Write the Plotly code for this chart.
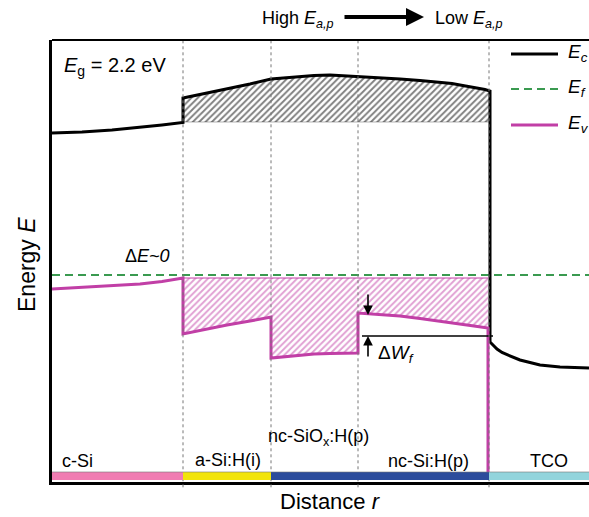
import plotly.graph_objects as go

# ---------------- data (distance r and energy E in arbitrary units) ----------------
# conduction band edge Ec
ec_r = [0, 30, 60, 88, 110, 131, 131, 155, 175, 198, 219, 235, 248, 262, 278, 292, 306, 328, 348, 368, 388, 400, 408, 418, 426, 433, 438,
        438, 441, 445, 450, 458, 468, 478, 488, 498, 508, 537]
ec_E = [349, 350, 352, 354.5, 357, 359.5, 384, 389, 393, 398, 403, 404.5, 405.5, 406.5, 407, 406.3, 405, 404, 403, 401.5, 400, 398.5, 397, 395.5, 394, 392.5, 391,
        140, 137, 133, 129.5, 126, 122, 119.5, 117, 116, 115, 114]
ec_hatch_idx = (5, 27)      # slice of Ec forming the hatched region
ec_hatch_base = 360

# Fermi level Ef
ef_r = [0, 537]
ef_E = [207, 207]

# valence band edge Ev
ev_r = [0, 30, 60, 88, 110, 131, 131, 155, 175, 198, 219, 219, 235, 248, 262, 278, 292, 306, 306, 328, 348, 368, 388, 408, 422, 436, 436]
ev_E = [193, 194.5, 196, 198, 200.5, 204, 148, 153, 157, 161, 165, 124, 125.5, 127, 128, 128.5, 128.8, 129, 169, 167.5, 166, 163.5, 161, 158, 156, 154, 10]
ev_hatch_idx = (5, 26)
ev_hatch_base = 204

# layers
layer_names = ["c-Si", "a-Si:H(i)", "nc-SiO<sub>x</sub>:H(p)", "nc-Si:H(p)", "TCO"]
layer_edges = [0, 131, 219, 306, 437, 537]
layer_colors = ["#f07cb2", "#f2e40c", "#2c4c9c", "#2c4c9c", "#92d4dc"]
label_pos_r = [25.5, 176, 266, 376, 497]
label_pos_E = [21, 22, 45, 21, 21]

dW_line_E = 146
dW_r = [310, 441]

FONT = "Liberation Sans, Arial, sans-serif"
MAG = "#c13fa6"
GREEN = "#3a9a50"

fig = go.Figure()

# Ec hatched region
a, b = ec_hatch_idx
hx = ec_r[a:b]
fig.add_trace(go.Scatter(x=[hx[0], hx[-1]], y=[ec_hatch_base, ec_hatch_base], mode="lines",
                         line=dict(color="rgba(0,0,0,0.5)", width=0.6), showlegend=False, hoverinfo="skip"))
fig.add_trace(go.Scatter(x=hx, y=ec_E[a:b], mode="lines", line=dict(width=0),
                         fill="tonexty", fillcolor="white",
                         fillpattern=dict(shape="/", fgcolor="black", bgcolor="white", size=4.5, solidity=0.42),
                         showlegend=False, hoverinfo="skip"))

# Ev hatched region
a, b = ev_hatch_idx
hx = ev_r[a:b]
fig.add_trace(go.Scatter(x=[hx[0], hx[-1]], y=[ev_hatch_base, ev_hatch_base], mode="lines",
                         line=dict(color=MAG, width=1), showlegend=False, hoverinfo="skip"))
fig.add_trace(go.Scatter(x=hx, y=ev_E[a:b], mode="lines", line=dict(width=0),
                         fill="tonexty", fillcolor="white",
                         fillpattern=dict(shape="/", fgcolor=MAG, bgcolor="white", size=4.5, solidity=0.42),
                         showlegend=False, hoverinfo="skip"))

# vertical dashed layer boundaries
for e in layer_edges[1:-1]:
    fig.add_shape(type="line", xref="x", yref="paper", x0=e, x1=e, y0=-0.012, y1=1,
                  line=dict(color="#777", width=1, dash="3px,3px"))

# Ef
fig.add_trace(go.Scatter(x=ef_r, y=ef_E, mode="lines",
                         line=dict(color=GREEN, width=2, dash="8px,5px"), showlegend=False))
# Ec
fig.add_trace(go.Scatter(x=ec_r, y=ec_E, mode="lines", line=dict(color="black", width=3),
                         showlegend=False))
# Ev
fig.add_trace(go.Scatter(x=ev_r, y=ev_E, mode="lines", line=dict(color=MAG, width=3),
                         showlegend=False))

# dW_f reference line
fig.add_trace(go.Scatter(x=dW_r, y=[dW_line_E, dW_line_E], mode="lines",
                         line=dict(color="black", width=1.3), showlegend=False))

# layer color bar
for i in range(len(layer_names)):
    fig.add_shape(type="rect", xref="x", yref="y", x0=layer_edges[i], x1=layer_edges[i + 1],
                  y0=2, y1=10, fillcolor=layer_colors[i], line=dict(width=0), layer="above")
fig.add_shape(type="line", xref="x", yref="y", x0=0, x1=537, y0=10, y1=10,
              line=dict(color="#777", width=0.6))

# top border
fig.add_shape(type="line", xref="paper", yref="paper", x0=0, x1=1, y0=1, y1=1,
              line=dict(color="black", width=2))

# legend (manual)
leg_E = [428, 393, 357]
fig.add_shape(type="line", xref="x", yref="y", x0=459, x1=506, y0=leg_E[0], y1=leg_E[0],
              line=dict(color="black", width=3))
fig.add_shape(type="line", xref="x", yref="y", x0=459, x1=506, y0=leg_E[1], y1=leg_E[1],
              line=dict(color=GREEN, width=2, dash="8px,5px"))
fig.add_shape(type="line", xref="x", yref="y", x0=459, x1=506, y0=leg_E[2], y1=leg_E[2],
              line=dict(color=MAG, width=3))
for E, lab in zip(leg_E, ["<i>E</i><sub><i>c</i></sub>", "<i>E</i><sub><i>f</i></sub>", "<i>E</i><sub><i>v</i></sub>"]):
    fig.add_annotation(x=514, y=E + 1, xref="x", yref="y", text=lab, showarrow=False,
                       xanchor="left", yanchor="middle", font=dict(size=19, color="black", family=FONT))

# layer labels
for name, rx, ry in zip(layer_names, label_pos_r, label_pos_E):
    fig.add_annotation(x=rx, y=ry, xref="x", yref="y", text=name, showarrow=False,
                       xanchor="center", yanchor="middle", font=dict(size=18, color="black", family=FONT))

fig.add_annotation(x=10, y=416, xref="x", yref="y", text="<i>E</i><sub>g</sub> = 2.2 eV", showarrow=False,
                   xanchor="left", yanchor="middle", font=dict(size=20, color="black", family=FONT))
fig.add_annotation(x=95, y=226, xref="x", yref="y", text="Δ<i>E~0</i>", showarrow=False,
                   xanchor="center", yanchor="middle", font=dict(size=18, color="black", family=FONT))
fig.add_annotation(x=324, y=128, xref="x", yref="y", text="Δ<i>W</i><sub><i>f</i></sub>", showarrow=False,
                   xanchor="left", yanchor="middle", font=dict(size=19, color="black", family=FONT))

# top labels (paper coordinates, above the plot)
py = lambda ypx: (482 - ypx) / 442.0
px = lambda xpx: (xpx - 52) / 537.0
fig.add_annotation(x=px(336), y=py(20), xref="paper", yref="paper", text="High <i>E</i><sub><i>a,p</i></sub>",
                   showarrow=False, xanchor="right", yanchor="middle", font=dict(size=18, color="black", family=FONT))
fig.add_annotation(x=px(433), y=py(20), xref="paper", yref="paper", text="Low <i>E</i><sub><i>a,p</i></sub>",
                   showarrow=False, xanchor="left", yanchor="middle", font=dict(size=18, color="black", family=FONT))
fig.add_annotation(x=px(424), y=py(17), ax=-81, ay=0, xref="paper", yref="paper", axref="pixel", ayref="pixel",
                   text="", showarrow=True, arrowhead=2, arrowsize=0.9, arrowwidth=4, arrowcolor="black")

# dW_f arrows
fig.add_annotation(x=316, y=167, ax=316, ay=189, xref="x", yref="y", axref="x", ayref="y", text="",
                   showarrow=True, arrowhead=2, arrowsize=1.2, arrowwidth=1.6, arrowcolor="black")
fig.add_annotation(x=316, y=146, ax=316, ay=124, xref="x", yref="y", axref="x", ayref="y", text="",
                   showarrow=True, arrowhead=2, arrowsize=1.2, arrowwidth=1.6, arrowcolor="black")

# axis titles
fig.add_annotation(x=px(27), y=py(265), xref="paper", yref="paper", text="Energy <i>E</i>", textangle=-90,
                   showarrow=False, xanchor="center", yanchor="middle",
                   font=dict(size=23, color="black", family=FONT))
fig.add_annotation(x=px(330), y=py(501), xref="paper", yref="paper", text="Distance <i>r</i>",
                   showarrow=False, xanchor="center", yanchor="middle",
                   font=dict(size=22, color="black", family=FONT))

fig.update_xaxes(range=[0, 537], showgrid=False, zeroline=False, showticklabels=False, ticks="",
                 showline=True, linecolor="black", linewidth=3)
fig.update_yaxes(range=[0, 442], showgrid=False, zeroline=False, showticklabels=False, ticks="",
                 showline=True, linecolor="black", linewidth=3)
fig.update_layout(width=589, height=517, margin=dict(l=52, r=0, t=40, b=35),
                  paper_bgcolor="white", plot_bgcolor="white", showlegend=False,
                  font=dict(family=FONT, color="black"))
fig.write_html("out.html")
